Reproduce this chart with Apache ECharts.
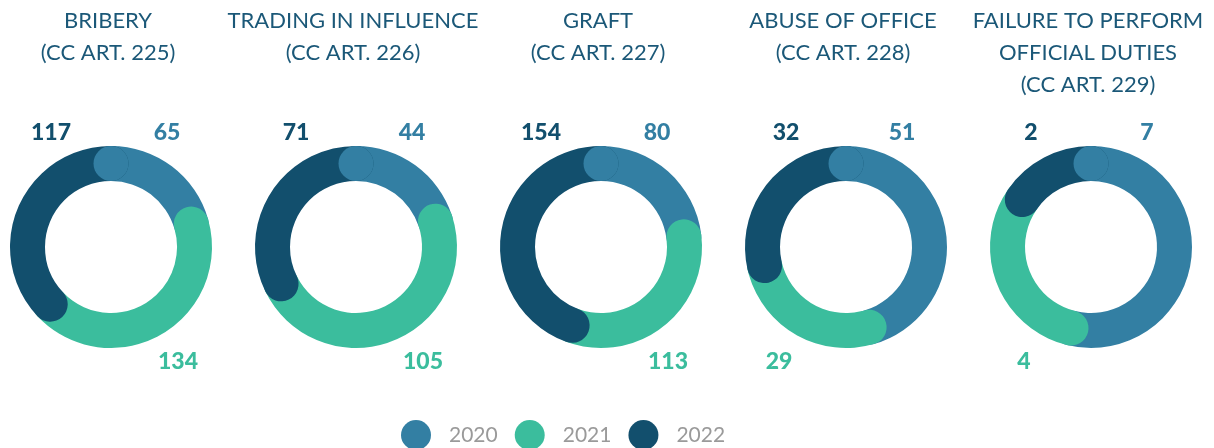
<!DOCTYPE html>
<html>
<head>
<meta charset="utf-8">
<script src="https://cdn.jsdelivr.net/npm/echarts@6/dist/echarts.min.js"></script>
<style>
  html, body { margin: 0; padding: 0; background: #fff; }
  #main { width: 1214px; height: 448px; }
</style>
</head>
<body>
<div id="main"></div>
<script>
// offences and yearly counts
var titles = [
  "BRIBERY\n(CC ART. 225)",
  "TRADING IN INFLUENCE\n(CC ART. 226)",
  "GRAFT\n(CC ART. 227)",
  "ABUSE OF OFFICE\n(CC ART. 228)",
  "FAILURE TO PERFORM\nOFFICIAL DUTIES\n(CC ART. 229)"
];
var years = ["2020", "2021", "2022"];
var v2020 = [65, 44, 80, 51, 7];
var v2021 = [134, 105, 113, 29, 4];
var v2022 = [117, 71, 154, 32, 2];

var colors = { "2020": "#337fa3", "2021": "#3bbd9d", "2022": "#124f6d" };
var font = "Lato";
var centersX = [111, 356, 601, 846, 1091];
var centerY = 247;

var polar = [], angleAxis = [], radiusAxis = [], series = [], graphic = [];

for (let i = 0; i < 5; i++) {
  let cx = centersX[i];
  let total = v2020[i] + v2021[i] + v2022[i];
  polar.push({ center: [cx, centerY], radius: [66, 101] });
  angleAxis.push({ polarIndex: i, type: "value", min: 0, max: total, startAngle: 90, clockwise: true, show: false });
  radiusAxis.push({ polarIndex: i, type: "category", data: ["a"], show: false });

  [v2020, v2021, v2022].forEach((arr, k) => {
    series.push({
      name: years[k], type: "bar", coordinateSystem: "polar", polarIndex: i,
      stack: "s" + i, roundCap: true, barWidth: 35, silent: true,
      itemStyle: { color: colors[years[k]] },
      data: [arr[i]]
    });
  });
  // blue start cap drawn last so it sits over the 2022 end
  series.push({
    name: "cap", type: "bar", coordinateSystem: "polar", polarIndex: i,
    stack: "s" + i, roundCap: true, barWidth: 35, silent: true,
    itemStyle: { color: colors["2020"] },
    data: [0.0001]
  });

  // title
  graphic.push({
    type: "text", x: cx - 3, y: 5, silent: true,
    style: { text: titles[i], textAlign: "center", textVerticalAlign: "top",
      font: "22px " + font, lineHeight: 32, fill: "#1b5878" }
  });

  // value labels
  graphic.push({
    type: "text", x: cx - 60, y: 133, silent: true,
    style: { text: String(v2022[i]), textAlign: "center", textVerticalAlign: "middle",
      font: "900 23px " + font, fill: colors["2022"] }
  });
  graphic.push({
    type: "text", x: cx + 56, y: 133, silent: true,
    style: { text: String(v2020[i]), textAlign: "center", textVerticalAlign: "middle",
      font: "900 23px " + font, fill: colors["2020"] }
  });
  // 2021 label goes on the side where the green arc sits
  let mid = (v2020[i] + v2021[i] / 2) / total * Math.PI * 2;
  let side = Math.sin(mid) >= 0 ? 1 : -1;
  graphic.push({
    type: "text", x: cx + side * 67, y: 362, silent: true,
    style: { text: String(v2021[i]), textAlign: "center", textVerticalAlign: "middle",
      font: "900 23px " + font, fill: colors["2021"] }
  });
}

var chart = echarts.init(document.getElementById("main"));
chart.setOption({
  animation: false,
  polar: polar,
  angleAxis: angleAxis,
  radiusAxis: radiusAxis,
  legend: {
    data: years, left: 396, top: 415, icon: "circle",
    itemWidth: 30, itemHeight: 30, itemGap: 17, selectedMode: false,
    textStyle: { color: "#9a9a9a", fontSize: 21, fontFamily: font, padding: [0, 0, 0, 13] }
  },
  graphic: graphic,
  series: series
});
</script>
</body>
</html>
